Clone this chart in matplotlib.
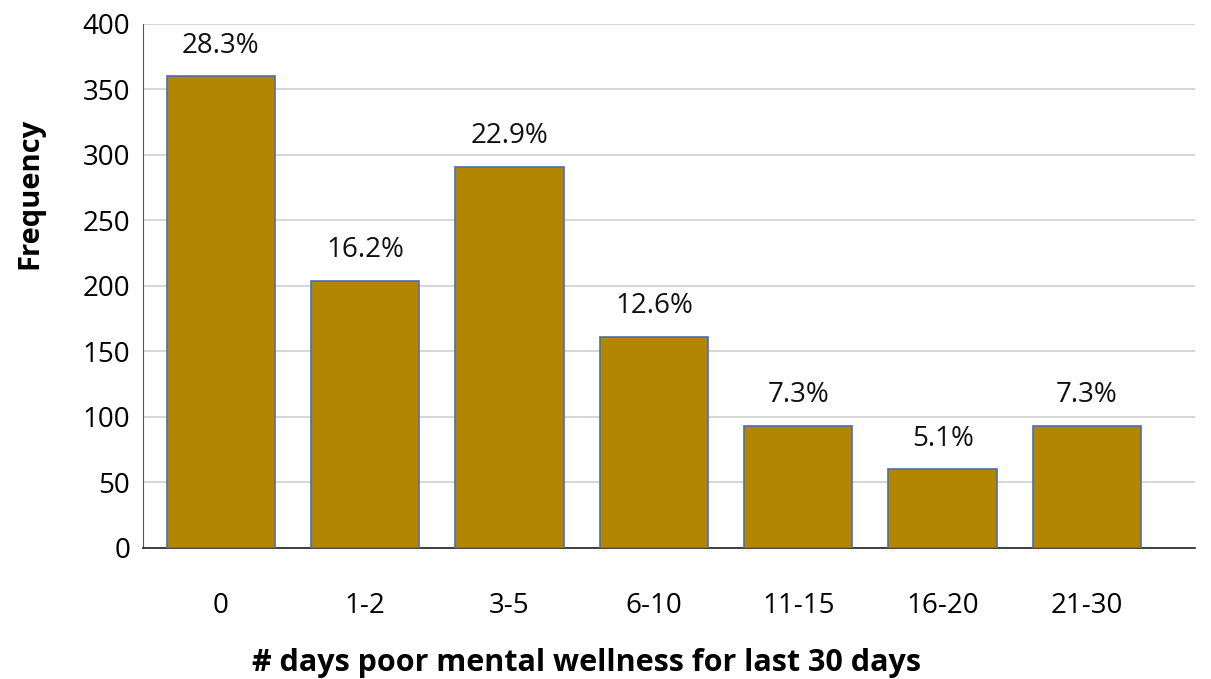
import matplotlib.pyplot as plt

# data
categories = ["0", "1-2", "3-5", "6-10", "11-15", "16-20", "21-30"]
frequency = [360, 204, 291, 161, 93, 60, 93]
percent_labels = ["28.3%", "16.2%", "22.9%", "12.6%", "7.3%", "5.1%", "7.3%"]
y_ticks = [0, 50, 100, 150, 200, 250, 300, 350, 400]

plt.rcParams['font.family'] = ['Open Sans', 'DejaVu Sans']

fig = plt.figure(figsize=(12.11, 6.79), dpi=100)
ax = fig.add_axes([0.118, 0.193, 0.869, 0.772])

x = list(range(len(categories)))
ax.bar(x, frequency, width=0.75, color="#B38600", edgecolor="#4A6FB5",
       linewidth=1.2, zorder=3)

for xi, v, lab in zip(x, frequency, percent_labels):
    ax.annotate(lab, (xi, v), xytext=(0, 12), textcoords="offset points",
                ha="center", va="bottom", fontsize=20, color="#111111")

ax.set_xlim(-0.54, 6.75)
ax.set_ylim(0, 400)
ax.set_yticks(y_ticks)
ax.set_xticks(x)
ax.set_xticklabels(categories)
ax.tick_params(axis="y", length=0, labelsize=20, pad=9)
ax.tick_params(axis="x", length=0, labelsize=20, pad=32)

ax.grid(axis="y", color="#D0D0D0", linewidth=1.2, zorder=0)
for s in ["top", "right"]:
    ax.spines[s].set_visible(False)
ax.spines["left"].set_color("#555555")
ax.spines["bottom"].set_color("#222222")
ax.spines["bottom"].set_linewidth(1.2)

ax.set_ylabel("Frequency", fontsize=21, fontweight="bold")
ax.yaxis.set_label_coords(-0.107, 0.677)
ax.yaxis.label.set_va("center")
ax.set_xlabel("# days poor mental wellness for last 30 days", fontsize=22,
              fontweight="bold")
ax.xaxis.set_label_coords(0.422, -0.19)

fig.savefig("out.png", dpi=100)
